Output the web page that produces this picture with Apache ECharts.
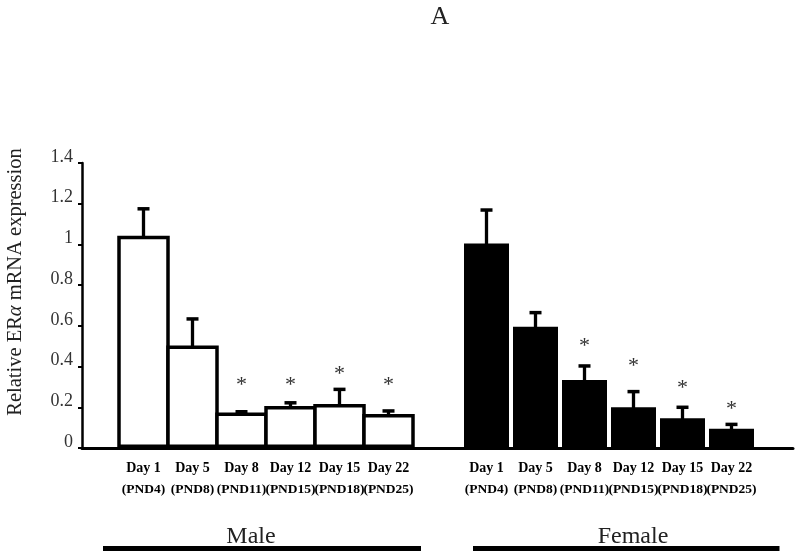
<!DOCTYPE html>
<html>
<head>
<meta charset="utf-8">
<script src="https://cdn.jsdelivr.net/npm/echarts@6/dist/echarts.min.js"></script>
<style>
html, body { margin: 0; padding: 0; background: #fff; }
#chart { width: 800px; height: 560px; }
</style>
</head>
<body>
<div id="chart"></div>
<script>
// 数据
var dayLabels = ['Day 1', 'Day 5', 'Day 8', 'Day 12', 'Day 15', 'Day 22'];
var pndLabels = ['(PND4)', '(PND8)', '(PND11)', '(PND15)', '(PND18)', '(PND25)'];
var maleMean = [1.043, 0.503, 0.175, 0.206, 0.216, 0.167];
var maleUpper = [1.175, 0.634, 0.178, 0.222, 0.288, 0.182];
var maleStar = [null, null, 0.33, 0.33, 0.383, 0.33];
var femaleMean = [1.005, 0.596, 0.334, 0.200, 0.146, 0.095];
var femaleUpper = [1.169, 0.665, 0.403, 0.277, 0.200, 0.116];
var femaleStar = [null, null, 0.522, 0.421, 0.314, 0.211];
var yTicks = [0, 0.2, 0.4, 0.6, 0.8, 1, 1.2, 1.4];

var serif = 'Liberation Serif';
var femaleStart = dayLabels.length + 1;   // 中间空一格
var nCat = femaleStart + dayLabels.length;

// 类目：男 6 个 + 空 1 个 + 女 6 个
var cats = [];
for (var i = 0; i < nCat; i++) cats.push('');
for (var i = 0; i < dayLabels.length; i++) {
    cats[i] = dayLabels[i] + '\n' + pndLabels[i];
    cats[femaleStart + i] = dayLabels[i] + '\n' + pndLabels[i];
}

var maleBars = [], femaleBars = [], errData = [], starData = [];
for (var i = 0; i < nCat; i++) { maleBars.push('-'); femaleBars.push('-'); }
for (var i = 0; i < dayLabels.length; i++) {
    maleBars[i] = maleMean[i];
    femaleBars[femaleStart + i] = femaleMean[i];
    errData.push([i, maleMean[i], maleUpper[i]]);
    errData.push([femaleStart + i, femaleMean[i], femaleUpper[i]]);
    if (maleStar[i] != null) starData.push([i, maleStar[i]]);
    if (femaleStar[i] != null) starData.push([femaleStart + i, femaleStar[i]]);
}

function renderErr(params, api) {
    var x = api.value(0);
    var p0 = api.coord([x, api.value(1)]);
    var p1 = api.coord([x, api.value(2)]);
    return {
        type: 'group',
        children: [
            { type: 'line', shape: { x1: p0[0], y1: p0[1] + 2, x2: p1[0], y2: p1[1] },
              style: { stroke: '#000', lineWidth: 3.3 } },
            { type: 'line', shape: { x1: p1[0] - 6, y1: p1[1], x2: p1[0] + 6, y2: p1[1] },
              style: { stroke: '#000', lineWidth: 3.5 } }
        ]
    };
}

function renderStar(params, api) {
    var p = api.coord([api.value(0), api.value(1)]);
    return {
        type: 'text',
        x: p[0], y: p[1] + 4,
        style: { text: '*', fill: '#333', font: '22px "' + serif + '"',
                 textAlign: 'center', textVerticalAlign: 'middle' }
    };
}

var myChart = echarts.init(document.getElementById('chart'));
var option = {
    animation: false,
    backgroundColor: '#fff',
    title: {
        text: 'A', left: 435, top: -1, textAlign: 'center',
        textStyle: { fontFamily: serif, fontSize: 26, fontWeight: 'normal', color: '#222' }
    },
    grid: [
        { left: 119, right: 44, top: 163, bottom: 112 },
        { left: 82, right: 7, top: 163, bottom: 112 }
    ],
    xAxis: [
        {
            type: 'category', gridIndex: 0, data: cats,
            axisLine: { show: false }, axisTick: { show: false },
            axisLabel: {
                interval: 0, margin: 9,
                formatter: function (v) {
                    if (!v) return '';
                    var s = v.split('\n');
                    return '{d|' + s[0] + '}\n{p|' + s[1] + '}';
                },
                rich: {
                    d: { fontFamily: serif, fontWeight: 'bold', fontSize: 14, lineHeight: 22, color: '#000' },
                    p: { fontFamily: serif, fontWeight: 'bold', fontSize: 13.5, lineHeight: 22, color: '#000' }
                }
            }
        },
        {
            type: 'category', gridIndex: 0, data: cats, position: 'bottom',
            axisLine: { show: false }, axisTick: { show: false }, axisLabel: { show: false }
        },
        {
            type: 'value', gridIndex: 1, min: 0, max: 1, z: 10,
            axisLine: { show: true, lineStyle: { color: '#000', width: 3 } },
            axisTick: { show: false }, axisLabel: { show: false }, splitLine: { show: false }
        }
    ],
    yAxis: [
        {
            type: 'value', gridIndex: 0, min: 0, max: 1.4, interval: 0.2,
            axisLine: { show: false }, axisTick: { show: false },
            axisLabel: { show: false }, splitLine: { show: false }
        },
        {
            type: 'value', gridIndex: 1, min: 0, max: 1.4, interval: 0.2,
            axisLine: { show: true, lineStyle: { color: '#000', width: 2.5 } },
            axisTick: { show: true, length: 4, lineStyle: { color: '#000', width: 2 } },
            axisLabel: {
                margin: 9,
                formatter: function (v) {
                    var t = yTicks.filter(function (k) { return Math.abs(k - v) < 1e-6; });
                    return t.length ? '{t|' + t[0] + '}' : '';
                },
                rich: {
                    t: { color: '#333', fontFamily: serif, fontSize: 18, padding: [0, 0, 12, 0] }
                }
            },
            splitLine: { show: false }
        }
    ],
    series: [
        {
            name: 'Male', type: 'bar', xAxisIndex: 0, yAxisIndex: 0,
            data: maleBars, barWidth: 52.5,
            itemStyle: { color: '#fff', borderColor: '#000', borderWidth: 3.5 }
        },
        {
            name: 'Female', type: 'bar', xAxisIndex: 1, yAxisIndex: 0,
            data: femaleBars, barWidth: 45,
            itemStyle: { color: '#000' }
        },
        {
            type: 'custom', xAxisIndex: 0, yAxisIndex: 0, z: 5,
            renderItem: renderErr, data: errData
        },
        {
            type: 'custom', xAxisIndex: 0, yAxisIndex: 0, z: 5,
            renderItem: renderStar, data: starData
        }
    ],
    graphic: [
        {
            type: 'text', x: 15.5, y: 282, rotation: Math.PI / 2,
            style: {
                text: '{n|Relative ER}{a|α}{n| mRNA expression}',
                textAlign: 'center', textVerticalAlign: 'middle',
                rich: {
                    n: { fontFamily: serif, fontSize: 20.5, fill: '#222' },
                    a: { fontFamily: serif, fontSize: 20.5, fontStyle: 'italic', fill: '#222' }
                }
            }
        },
        {
            type: 'text', x: 251, y: 537,
            style: { text: 'Male', font: '24px "' + serif + '"', fill: '#222',
                     textAlign: 'center', textVerticalAlign: 'middle' }
        },
        {
            type: 'text', x: 633, y: 537,
            style: { text: 'Female', font: '24px "' + serif + '"', fill: '#222',
                     textAlign: 'center', textVerticalAlign: 'middle' }
        },
        {
            type: 'line', shape: { x1: 103, y1: 548.5, x2: 421, y2: 548.5 },
            style: { stroke: '#000', lineWidth: 5 }
        },
        {
            type: 'line', shape: { x1: 473, y1: 548.5, x2: 779.5, y2: 548.5 },
            style: { stroke: '#000', lineWidth: 5 }
        }
    ]
};
myChart.setOption(option);
</script>
</body>
</html>
